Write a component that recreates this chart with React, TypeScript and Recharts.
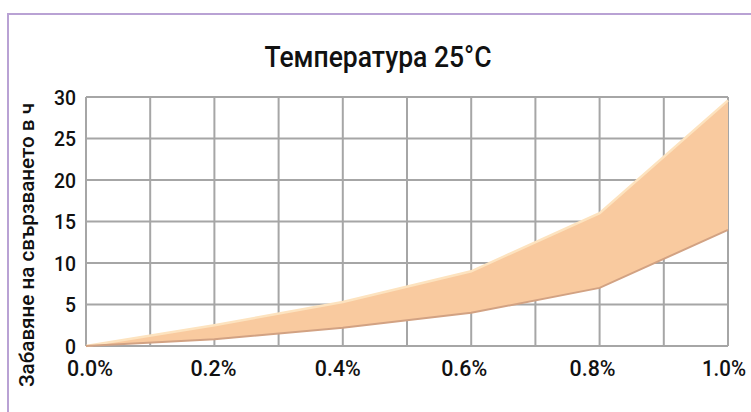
import { ComposedChart, Area, Line, XAxis, YAxis, CartesianGrid } from 'recharts'

// Температура 25°C – забавяне на свързването спрямо дозата (%)
const dosage = [0, 0.2, 0.4, 0.6, 0.8, 1.0]
const delayMin = [0, 0.8, 2.2, 4, 7, 14]
const delayMax = [0, 2.5, 5.3, 9, 16, 29.6]

const xTicks = [0, 0.2, 0.4, 0.6, 0.8, 1.0]
const xGrid = [0, 0.1, 0.2, 0.3, 0.4, 0.5, 0.6, 0.7, 0.8, 0.9, 1.0]
const yTicks = [0, 5, 10, 15, 20, 25, 30]

const title = 'Температура 25°C'
const yLabel = 'Забавяне на свързването в ч'

const font = 'Roboto, "Liberation Sans", sans-serif'
const ink = '#111'

const data = dosage.map((x, i) => ({
  x,
  low: delayMin[i],
  high: delayMax[i],
  range: [delayMin[i], delayMax[i]],
}))

// the original x labels sit a little off their grid lines
const xLabelNudge = [4, -1, -5, -7, -7, -4]

// condensed look: squeeze glyphs with textLength
const XTick = ({ x, y, payload, index }: any) => {
  const label = `${payload.value.toFixed(1)}%`
  return (
    <text
      x={x + (xLabelNudge[index] ?? 0)}
      y={y + 16}
      textAnchor="middle"
      fontFamily={font}
      fontWeight={500}
      fontSize={22}
      fill={ink}
      textLength={label.startsWith('1') ? 44 : 46}
      lengthAdjust="spacingAndGlyphs"
    >
      {label}
    </text>
  )
}

const YTick = ({ x, y, payload }: any) => {
  const label = String(payload.value)
  return (
    <text
      x={x}
      y={y + 7.5}
      textAnchor="end"
      fontFamily={font}
      fontWeight={500}
      fontSize={21}
      fill={ink}
      textLength={label.length * 11}
      lengthAdjust="spacingAndGlyphs"
    >
      {label}
    </text>
  )
}

export default function App() {
  return (
    <div
      style={{
        position: 'absolute',
        top: 0,
        left: 0,
        width: 751,
        height: 412,
        background: '#fff',
        overflow: 'hidden',
      }}
    >
      {/* purple frame, open at right and bottom */}
      <div
        style={{
          position: 'absolute',
          left: 7,
          top: 13,
          width: 760,
          height: 420,
          borderLeft: '2px solid #b9a2d4',
          borderTop: '2px solid #b9a2d4',
        }}
      />
      <svg width={751} height={412} style={{ position: 'absolute', left: 0, top: 0 }}>
        <text
          x={378}
          y={67}
          textAnchor="middle"
          fontFamily={font}
          fontWeight={500}
          fontSize={30}
          fill={ink}
          textLength={227}
          lengthAdjust="spacingAndGlyphs"
        >
          {title}
        </text>
        <text
          transform="translate(34, 245) rotate(-90)"
          textAnchor="middle"
          fontFamily={font}
          fontWeight={500}
          fontSize={20}
          fill={ink}
          textLength={284}
          lengthAdjust="spacingAndGlyphs"
        >
          {yLabel}
        </text>
      </svg>
      <div style={{ position: 'absolute', left: 0, top: 0 }}>
        <ComposedChart
          width={751}
          height={412}
          data={data}
          margin={{ top: 97, right: 23, bottom: 40, left: 36 }}
        >
          <CartesianGrid
            stroke="#a6a6a6"
            strokeWidth={2}
            verticalValues={xGrid}
            horizontalValues={yTicks}
          />
          <XAxis
            type="number"
            dataKey="x"
            domain={[0, 1]}
            ticks={xTicks}
            axisLine={false}
            tickLine={false}
            tickSize={6}
            tickMargin={8}
            height={26}
            interval={0}
            tick={<XTick />}
          />
          <YAxis
            type="number"
            domain={[0, 30]}
            ticks={yTicks}
            axisLine={false}
            tickLine={false}
            tickSize={6}
            tickMargin={4}
            width={50}
            interval={0}
            tick={<YTick />}
          />
          <Area
            type="linear"
            dataKey="range"
            fill="#f9ca9f"
            fillOpacity={1}
            stroke="none"
            isAnimationActive={false}
          />
          <Line
            type="linear"
            dataKey="high"
            stroke="#fde3bf"
            strokeWidth={2.5}
            dot={false}
            isAnimationActive={false}
          />
          <Line
            type="linear"
            dataKey="low"
            stroke="#d2a283"
            strokeWidth={2}
            dot={false}
            isAnimationActive={false}
          />
        </ComposedChart>
      </div>
    </div>
  )
}
